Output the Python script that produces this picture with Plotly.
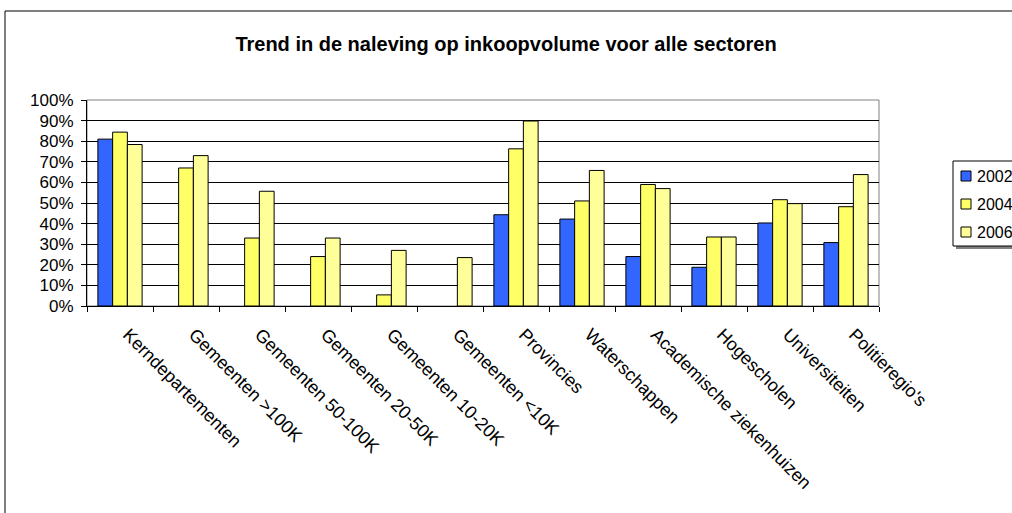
import plotly.graph_objects as go

categories = [
    "Kerndepartementen", "Gemeenten >100K", "Gemeenten 50-100K", "Gemeenten 20-50K",
    "Gemeenten 10-20K", "Gemeenten <10K", "Provincies", "Waterschappen",
    "Academische ziekenhuizen", "Hogescholen", "Universiteiten", "Politieregio's",
]
v2002 = [0.81, None, None, None, None, None, 0.443, 0.422, 0.24, 0.188, 0.403, 0.308]
v2004 = [0.844, 0.67, 0.33, 0.24, 0.054, None, 0.763, 0.51, 0.59, 0.335, 0.516, 0.482]
v2006 = [0.784, 0.73, 0.557, 0.33, 0.27, 0.235, 0.898, 0.658, 0.57, 0.335, 0.497, 0.638]
series_names = ["2002", "2004", "2006"]
series_colors = ["#3366FF", "#FFFF66", "#FFFF99"]

FONT = "Liberation Sans, Arial, sans-serif"

# plot area in pixels (page 1012x513)
L, R, T, B = 87, 879, 100, 306
W, H = 1012, 513
pw, ph = R - L, B - T


def px(x):
    return (x - L) / pw


def py(y):
    return (B - y) / ph


fig = go.Figure()
for name, vals, col in zip(series_names, [v2002, v2004, v2006], series_colors):
    fig.add_trace(go.Bar(
        x=categories, y=vals, name=name, showlegend=False,
        marker=dict(color=col, line=dict(color="#000000", width=1)),
    ))

# outer chart frame (runs off the right and bottom edges)
fig.add_shape(type="rect", xref="paper", yref="paper",
              x0=px(5), x1=px(1030), y0=py(530), y1=py(11),
              line=dict(color="#000000", width=1), layer="below")
# plot area border (top/right grey)
fig.add_shape(type="rect", xref="paper", yref="paper",
              x0=0, x1=1, y0=0, y1=1,
              line=dict(color="#808080", width=1), layer="below")

# legend box (Excel style, cut off at the right edge) with a small shadow
fig.add_shape(type="rect", xref="paper", yref="paper",
              x0=px(956), x1=px(1040), y0=py(249), y1=py(164),
              line=dict(width=0), fillcolor="#808080")
fig.add_shape(type="rect", xref="paper", yref="paper",
              x0=px(953), x1=px(1036), y0=py(246), y1=py(161),
              line=dict(color="#000000", width=1), fillcolor="white")
for i, (name, col) in enumerate(zip(series_names, series_colors)):
    cy = 176 + 28 * i
    fig.add_shape(type="rect", xref="paper", yref="paper",
                  x0=px(961), x1=px(971), y0=py(cy + 5), y1=py(cy - 5),
                  line=dict(color="#000000", width=1), fillcolor=col)
    fig.add_annotation(text=name, xref="paper", yref="paper",
                       x=px(975), y=py(cy), xanchor="left", yanchor="middle",
                       showarrow=False, font=dict(size=16))

fig.update_layout(
    width=W, height=H,
    margin=dict(l=L, r=W - R, t=T, b=H - B, autoexpand=False),
    plot_bgcolor="white", paper_bgcolor="white",
    barmode="group", bargap=0.33, bargroupgap=0,
    font=dict(family=FONT, size=16, color="#000000"),
    title=dict(text="<b>Trend in de naleving op inkoopvolume voor alle sectoren</b>",
               x=0.5, xref="container", xanchor="center",
               y=1 - 44 / H, yanchor="middle",
               font=dict(family=FONT, size=20, color="#000000")),
    xaxis=dict(
        type="category", tickangle=45, tickson="boundaries",
        ticks="outside", ticklen=5, tickcolor="#000000",
        ticklabelstandoff=10, ticklabelshift=8,
        showline=True, linecolor="#000000", linewidth=1,
        showgrid=False, tickfont=dict(size=18),
    ),
    yaxis=dict(
        range=[0, 1], dtick=0.1, tickformat=".0%",
        ticks="outside", ticklen=5, tickcolor="#000000",
        ticklabelstandoff=4,
        showline=True, linecolor="#000000", linewidth=1,
        showgrid=True, gridcolor="#000000", gridwidth=1,
        zeroline=False, tickfont=dict(size=17),
    ),
    showlegend=False,
)

# drop the default 8px body margin so the figure sits at the page corner
fig.write_html("out.html", config={"displayModeBar": False},
               post_script="document.body.style.margin='0';")
